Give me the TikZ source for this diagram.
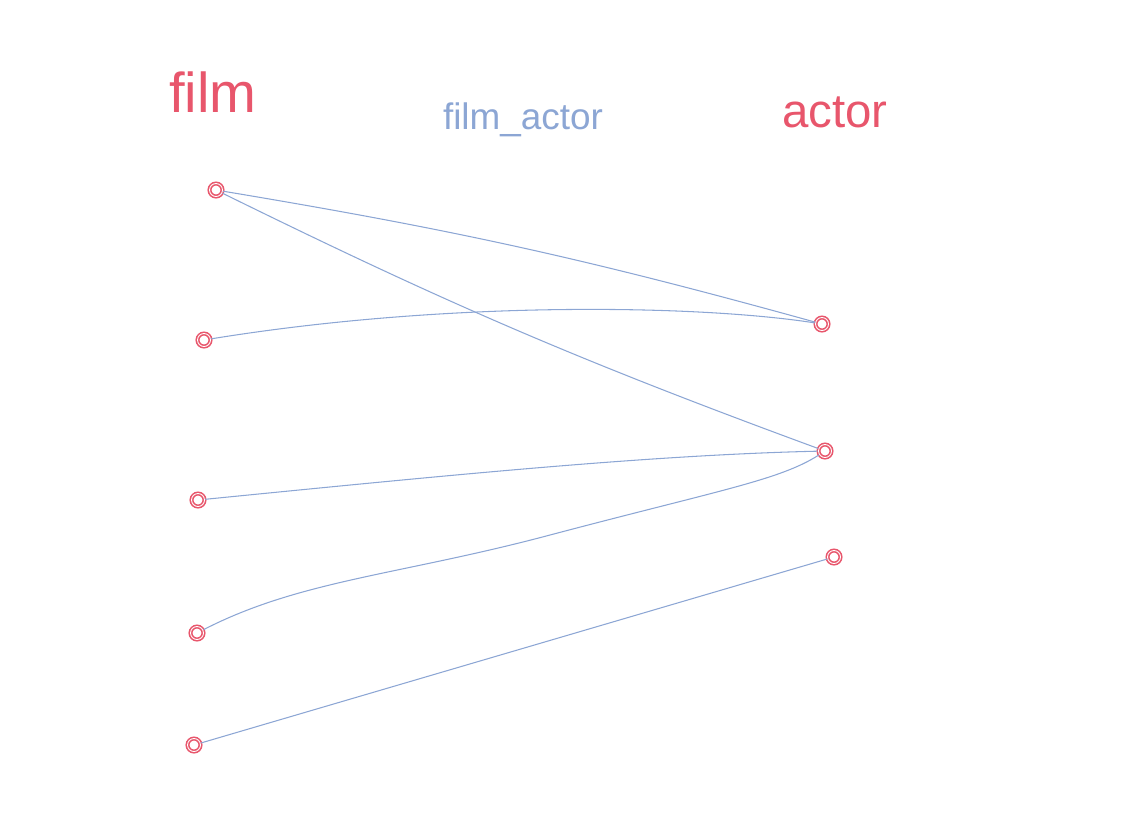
\documentclass[tikz,border=0pt]{standalone}
\usepackage{fontspec}
\setmainfont{Liberation Sans}
\definecolor{penred}{RGB}{232,86,108}
\definecolor{penblue}{RGB}{140,166,212}

\begin{document}
\begin{tikzpicture}[
  x=0.02cm, y=-0.02cm,
  dot/.style={
    circle,
    draw=penred,
    line width=0.9pt,
    minimum size=0.26cm,
    inner sep=0pt,
    double=white,
    double distance=0.5pt
  },
  tablelabel/.style={
    text=penred,
    inner sep=0pt
  },
  link/.style={
    draw=penblue,
    line width=0.6pt
  }
]
\useasboundingbox (0,0) rectangle (1145,816);

% Table headings
\node[tablelabel,font=\fontsize{32}{36}\selectfont] (filmlabel) at (213,92) {film};
\node[tablelabel,text=penblue,font=\fontsize{21}{25}\selectfont] (joinlabel) at (523,120) {film\_actor};
\node[tablelabel,font=\fontsize{27}{31}\selectfont] (actorlabel) at (835,112) {actor};

% Film rows
\node[dot] (f1) at (216,190) {};
\node[dot] (f2) at (204,340) {};
\node[dot] (f3) at (198,500) {};
\node[dot] (f4) at (197,633) {};
\node[dot] (f5) at (194,745) {};

% Actor rows
\node[dot] (a1) at (822,324) {};
\node[dot] (a2) at (825,451) {};
\node[dot] (a3) at (834,557) {};

% Links from film_actor
\draw[link] (f1) to[bend left=3] (a1);
\draw[link] (f1) to[bend right=3] (a2);
\draw[link] (f2) .. controls (450,300) and (700,305) .. (a1);
\draw[link] (f3) .. controls (450,475) and (650,455) .. (a2);
\draw[link] (f4) .. controls (300,580) and (400,575) .. (550,535) .. controls (720,490) and (780,480) .. (a2);
\draw[link] (f5) -- (a3);

\end{tikzpicture}
\end{document}
